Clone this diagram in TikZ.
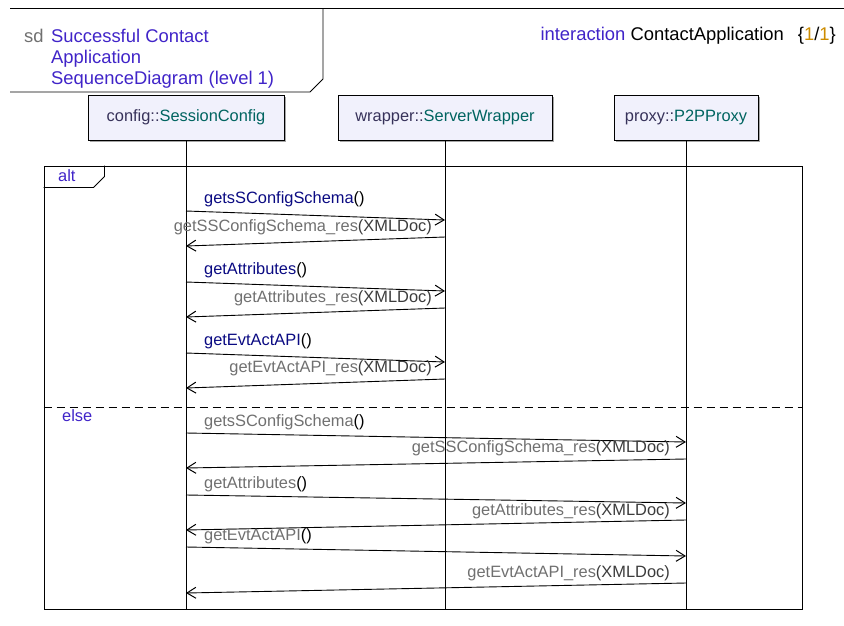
\documentclass[tikz,border=0pt]{standalone}
\usepackage{fontspec}
\setmainfont{Liberation Sans}
\usetikzlibrary{arrows.meta,positioning,shadows}
\definecolor{kwblue}{RGB}{64,36,200}
\definecolor{opnavy}{RGB}{10,10,130}
\definecolor{clsteal}{RGB}{0,100,96}
\definecolor{objgray}{RGB}{55,50,90}
\definecolor{resgray}{RGB}{112,112,112}
\definecolor{argdark}{RGB}{60,60,60}
\definecolor{pageorange}{RGB}{205,140,0}
\definecolor{headfill}{RGB}{241,241,252}

\begin{document}
\begin{tikzpicture}[x=1pt,y=-1pt,
  every node/.style={font=\fontsize{16.4}{19}\selectfont,inner sep=0pt},
  head/.style={draw=black,line width=1pt,fill=headfill,minimum height=45pt,
    drop shadow={shadow xshift=2pt,shadow yshift=-2pt,fill=black!35,opacity=1}},
  frag/.style={draw=black,line width=1pt,minimum width=758pt,minimum height=443pt},
  life/.style={line width=0.8pt},
  sep/.style={line width=0.8pt,dash pattern=on 8pt off 5pt},
  msg/.style={-{Straight Barb[length=9pt,width=11pt,line width=1pt]},line width=0.9pt},
  call/.style={anchor=west},
  res/.style={anchor=east,text=resgray},
  kw/.style={text=kwblue},
  big/.style={font=\fontsize{18.4}{21}\selectfont}]
\useasboundingbox (0,0) rectangle (844,625);
% header frame
\draw[line width=0.9pt] (10,8) -- (844,8);
\draw[line width=0.9pt] (10,92) -- (310,92) -- (323,79) -- (323,8);
\node[anchor=west,text=resgray,big] (sd) at (24,36) {sd};
\node[anchor=north west,align=left,kw,big] (title) at (51,29)
  {Successful Contact\\Application\\SequenceDiagram (level 1)};
\node[anchor=east,big] (inter) at (836,36)
  {\textcolor{kwblue}{interaction} ContactApplication\hspace{14pt}\{\textcolor{pageorange}{1}/\textcolor{pageorange}{1}\}};
% lifeline heads
\node[head,minimum width=196pt] (cfg) at (186,117.5) {\textcolor{objgray}{config::}\textcolor{clsteal}{SessionConfig}};
\node[head,minimum width=214pt] (wrp) at (445,117.5) {\textcolor{objgray}{wrapper::}\textcolor{clsteal}{ServerWrapper}};
\node[head,minimum width=144pt] (pxy) at (686,117.5) {\textcolor{objgray}{proxy::}\textcolor{clsteal}{P2PProxy}};
% combined fragment
\node[frag] (alt) at (423,387.5) {};
\draw[line width=0.9pt] (alt.north west) ++(0,22) -- ++(50,0) -- ++(11,-11) -- ++(0,-11);
\node[kw,anchor=west] (altlbl) at (58,176) {alt};
\draw[sep] (alt.west |- 0,407) -- (alt.east |- 0,407);
\node[kw,anchor=west] (elselbl) at (62,416) {else};
\draw[life] (cfg.south) -- (cfg |- alt.south);
\draw[life] (wrp.south) -- (wrp |- alt.south);
\draw[life] (pxy.south) -- (pxy |- alt.south);
% alt: calls to the server wrapper
\node[call] (c1) at (204,199) {\textcolor{opnavy}{getsSConfigSchema}()};
\draw[msg] (cfg |- 0,211) -- (wrp |- 0,220);
\node[res] (r1) at (432,227) {getSSConfigSchema\_res\textcolor{argdark}{(XMLDoc)}};
\draw[msg] (wrp |- 0,237) -- (cfg |- 0,246);
\node[call] (c2) at (204,270) {\textcolor{opnavy}{getAttributes}()};
\draw[msg] (cfg |- 0,282) -- (wrp |- 0,291);
\node[res] (r2) at (432,298) {getAttributes\_res\textcolor{argdark}{(XMLDoc)}};
\draw[msg] (wrp |- 0,308) -- (cfg |- 0,317);
\node[call] (c3) at (204,341) {\textcolor{opnavy}{getEvtActAPI}()};
\draw[msg] (cfg |- 0,353) -- (wrp |- 0,362);
\node[res] (r3) at (432,368) {getEvtActAPI\_res\textcolor{argdark}{(XMLDoc)}};
\draw[msg] (wrp |- 0,379) -- (cfg |- 0,388);
% else: calls to the proxy
\node[call] (c4) at (204,422) {\textcolor{resgray}{getsSConfigSchema}()};
\draw[msg] (cfg |- 0,433) -- (pxy |- 0,442);
\node[res] (r4) at (670,448) {getSSConfigSchema\_res\textcolor{argdark}{(XMLDoc)}};
\draw[msg] (pxy |- 0,459) -- (cfg |- 0,468);
\node[call] (c5) at (204,484) {\textcolor{resgray}{getAttributes}()};
\draw[msg] (cfg |- 0,495) -- (pxy |- 0,503);
\node[res] (r5) at (670,511) {getAttributes\_res\textcolor{argdark}{(XMLDoc)}};
\draw[msg] (pxy |- 0,520) -- (cfg |- 0,530);
\node[call] (c6) at (204,536) {\textcolor{resgray}{getEvtActAPI}()};
\draw[msg] (cfg |- 0,547) -- (pxy |- 0,556);
\node[res] (r6) at (670,573) {getEvtActAPI\_res\textcolor{argdark}{(XMLDoc)}};
\draw[msg] (pxy |- 0,583) -- (cfg |- 0,593);
\end{tikzpicture}
\end{document}
